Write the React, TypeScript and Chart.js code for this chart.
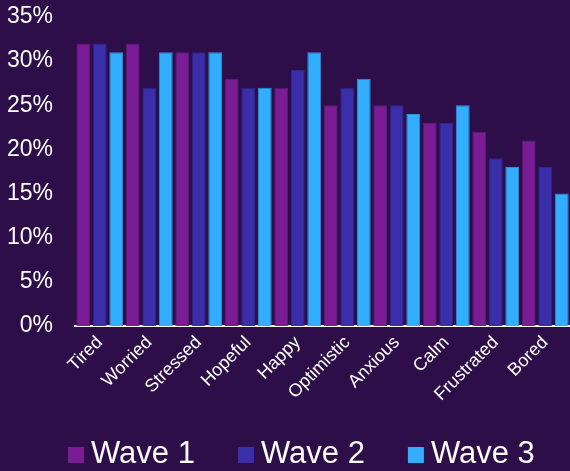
import React, { useEffect, useRef } from "react";
import { Chart, registerables } from "chart.js";

Chart.register(...registerables);

const categories = ["Tired", "Worried", "Stressed", "Hopeful", "Happy", "Optimistic", "Anxious", "Calm", "Frustrated", "Bored"];
const wave1 = [32, 32, 31, 28, 27, 25, 25, 23, 22, 21];
const wave2 = [32, 27, 31, 27, 29, 27, 25, 23, 19, 18];
const wave3 = [31, 31, 31, 27, 31, 28, 24, 25, 18, 15];
const seriesLabels = ["Wave 1", "Wave 2", "Wave 3"];
const yMin = 0;
const yMax = 35;
const yStep = 5;

const BG = "#2d0e48";
const COLORS = ["#7a1c94", "#3a2fa8", "#33aeff"];
const BORDERS = ["#5e1878", "#2f2690", "#2a95dc"];
const FONT = '"Liberation Sans", Arial, sans-serif';

const bgPlugin = {
  id: "bgFill",
  beforeDraw(chart: any) {
    const ctx = chart.ctx;
    ctx.save();
    ctx.fillStyle = BG;
    ctx.fillRect(0, 0, chart.width, chart.height);
    ctx.restore();
  },
};

const legendPlugin = {
  id: "customLegend",
  afterDraw(chart: any) {
    const ctx = chart.ctx;
    ctx.save();
    ctx.font = `31px ${FONT}`;
    ctx.textBaseline = "alphabetic";
    ctx.textAlign = "left";
    let x = 68;
    const baseline = 463;
    chart.data.datasets.forEach((ds: any) => {
      ctx.fillStyle = ds.backgroundColor;
      ctx.fillRect(x, baseline - 16, 16, 16);
      x += 16 + 7;
      ctx.fillStyle = "#ffffff";
      ctx.fillText(ds.label, x, baseline);
      x += ctx.measureText(ds.label).width + 43;
    });
    ctx.restore();
  },
};

export default function App() {
  const ref = useRef<HTMLCanvasElement | null>(null);

  useEffect(() => {
    document.body.style.margin = "0";
    document.body.style.background = BG;
    const canvas = ref.current;
    if (!canvas) return;
    const series = [wave1, wave2, wave3];
    const chart = new Chart(canvas, {
      type: "bar",
      data: {
        labels: categories,
        datasets: series.map((d, i) => ({
          label: seriesLabels[i],
          data: d,
          backgroundColor: COLORS[i],
          borderColor: BORDERS[i],
          borderWidth: 1,
          categoryPercentage: 1,
          barPercentage: 0.84,
        })),
      },
      options: {
        responsive: false,
        animation: false,
        layout: { padding: { top: 17, right: 0, left: 0, bottom: 0 } },
        plugins: {
          legend: { display: false },
          tooltip: { enabled: false },
        },
        scales: {
          x: {
            grid: { display: false, drawTicks: false },
            border: { display: true, color: "#ffffff", width: 2 },
            ticks: {
              color: "#ffffff",
              font: { family: FONT, size: 18 },
              minRotation: 45,
              maxRotation: 45,
              autoSkip: false,
              padding: 6,
            },
            afterFit: (scale: any) => {
              scale.height = 145;
              scale.paddingTop = 0;
              scale.paddingBottom = 0;
              scale.paddingRight = 0;
            },
          },
          y: {
            min: yMin,
            max: yMax,
            grid: { display: false, drawTicks: false },
            border: { display: false },
            ticks: {
              stepSize: yStep,
              color: "#ffffff",
              font: { family: FONT, size: 23 },
              padding: 22,
              callback: (v: any) => `${v}%`,
            },
            afterFit: (scale: any) => {
              scale.width = 75;
              scale.paddingTop = 0;
              scale.paddingBottom = 0;
            },
          },
        },
      },
      plugins: [bgPlugin, legendPlugin],
    });
    return () => chart.destroy();
  }, []);

  return (
    <div style={{ width: 570, height: 471, background: BG }}>
      <canvas ref={ref} width={570} height={471} style={{ display: "block" }} />
    </div>
  );
}
